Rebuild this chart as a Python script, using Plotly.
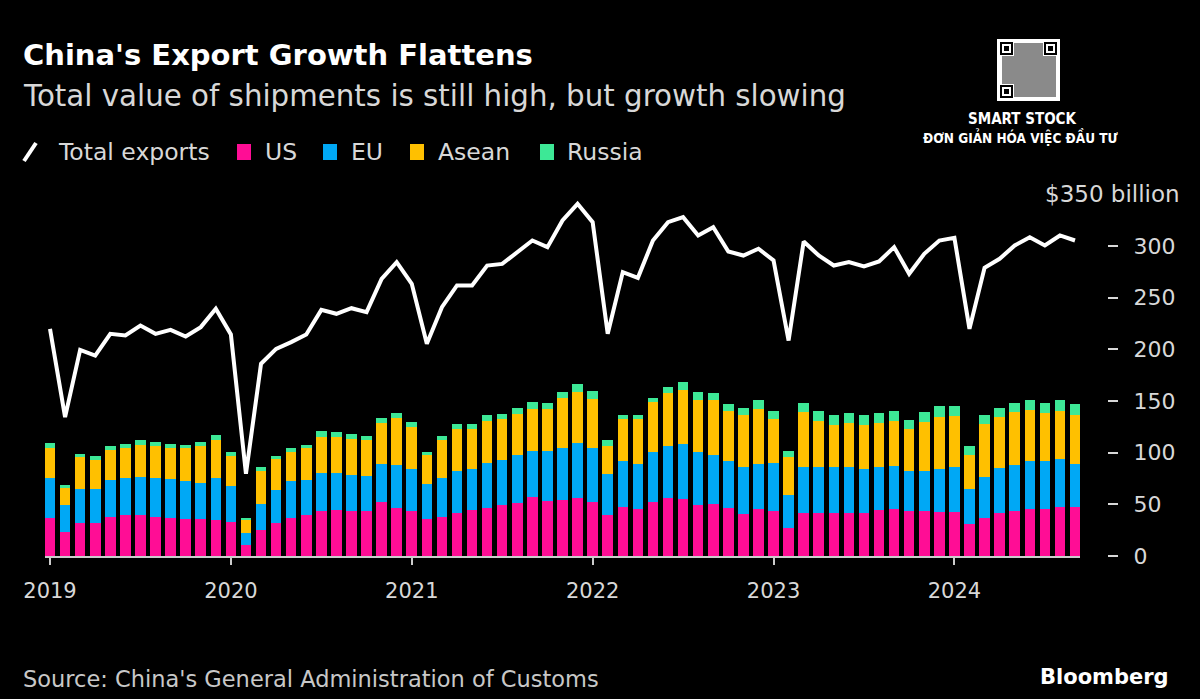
import plotly.graph_objects as go

months = [f"{y}-{m:02d}" for y in range(2019, 2025) for m in range(1, 13)][:69]

us = [36.6, 23.1, 31.8, 31.8, 37.6, 39.2, 39.2, 37.6, 36.9, 36.0, 36.0, 35.0,
      32.7, 10.8, 25.3, 32.1, 36.9, 39.2, 43.1, 44.7, 43.4, 43.4, 52.1, 46.6,
      44.0, 36.0, 38.2, 41.8, 44.7, 46.6, 49.5, 51.5, 57.0, 53.7, 54.4, 56.3,
      52.1, 39.8, 47.3, 45.6, 52.1, 56.0, 54.7, 49.8, 50.5, 46.6, 40.8, 45.6,
      44.0, 26.9, 42.1, 42.1, 42.1, 42.1, 42.1, 44.7, 45.6, 43.1, 44.0, 42.4,
      42.4, 31.1, 36.9, 42.1, 44.0, 45.6, 45.6, 47.3, 47.3]
eu = [38.7, 25.8, 33.2, 33.2, 36.1, 36.1, 37.7, 37.7, 37.4, 36.4, 34.5, 40.3,
      34.6, 11.3, 25.2, 31.9, 35.5, 34.5, 37.1, 35.5, 35.1, 34.5, 37.1, 41.9,
      40.4, 33.8, 37.1, 40.3, 39.7, 43.2, 43.6, 45.8, 44.5, 48.4, 50.3, 52.9,
      52.3, 39.1, 44.2, 43.6, 48.4, 50.3, 53.8, 51.3, 46.8, 44.9, 45.2, 43.6,
      45.8, 32.6, 44.5, 44.5, 44.5, 44.5, 42.3, 41.3, 41.3, 38.7, 38.7, 42.0,
      44.2, 33.9, 39.4, 43.2, 44.5, 45.9, 45.9, 46.7, 41.9]
asean = [29.4, 16.7, 30.6, 28.1, 29.0, 29.4, 31.0, 30.7, 30.4, 32.0, 35.8, 37.4,
         29.6, 12.3, 32.2, 29.4, 28.4, 30.7, 35.4, 34.8, 34.9, 33.9, 39.3, 44.9,
         40.3, 27.5, 37.1, 41.0, 38.7, 41.3, 39.6, 40.3, 40.9, 40.3, 48.0, 49.3,
         47.7, 28.0, 41.2, 43.5, 48.4, 51.6, 52.3, 49.4, 53.2, 48.7, 50.0, 53.2,
         42.9, 36.1, 52.6, 44.5, 40.3, 42.3, 42.8, 42.9, 43.6, 41.3, 46.8, 50.6,
         48.7, 33.2, 51.6, 49.7, 50.7, 50.0, 46.7, 46.8, 47.4]
russia = [4.5, 3.3, 3.3, 3.2, 3.6, 3.8, 3.9, 4.2, 3.8, 3.5, 4.2, 4.6,
          3.9, 2.5, 3.3, 3.5, 3.9, 3.5, 5.2, 4.8, 4.8, 4.8, 4.9, 4.8,
          4.8, 3.8, 4.2, 4.8, 4.8, 4.9, 4.9, 5.5, 6.5, 5.5, 5.8, 8.1,
          7.1, 4.9, 3.9, 3.9, 4.1, 5.5, 7.4, 8.0, 7.4, 7.1, 7.1, 8.1,
          8.1, 6.5, 8.7, 9.7, 9.7, 9.6, 9.7, 9.6, 9.7, 9.0, 10.3, 10.6,
          9.4, 7.8, 8.1, 8.1, 9.0, 9.6, 10.0, 10.3, 10.7]
total = [219.8, 134.4, 199.5, 194.0, 215.0, 213.4, 223.0, 215.0, 218.9, 212.4, 221.5, 239.2,
         214.4, 79.5, 186.0, 200.5, 207.0, 214.4, 238.2, 234.4, 239.8, 236.0, 268.2, 284.4,
         263.4, 205.3, 240.8, 261.8, 261.8, 281.1, 282.7, 294.0, 305.3, 298.9, 324.7, 340.8,
         323.1, 215.0, 274.7, 269.2, 305.3, 323.1, 327.9, 310.2, 318.2, 294.7, 290.8, 297.3,
         286.0, 208.5, 304.4, 290.8, 281.1, 284.4, 280.2, 285.0, 298.9, 273.1, 292.4, 305.3,
         307.9, 219.8, 278.9, 287.6, 300.5, 308.5, 300.5, 310.2, 305.3]

year_ticks = ["2019", "2020", "2021", "2022", "2023", "2024"]
y_ticks = [0, 50, 100, 150, 200, 250, 300]

series = [("US", us, "#ff0d95"), ("EU", eu, "#00a8f5"),
          ("Asean", asean, "#ffc000"), ("Russia", russia, "#3de896")]

W, H = 1200, 699
L, R, T, B = 45, 20, 184, 143
PW, PH = W - L - R, H - T - B


def px(x):
    return (x - L) / PW


def py(y):
    return (H - B - y) / PH


xi = list(range(len(months)))
fig = go.Figure()
for name, vals, col in series:
    fig.add_trace(go.Bar(x=xi, y=vals, name=name, marker_color=col,
                         marker_line_width=0, width=0.7, showlegend=False,
                         hovertext=months))
fig.add_trace(go.Scatter(x=xi, y=total, mode="lines", name="Total exports",
                         line=dict(color="white", width=4), showlegend=False,
                         hovertext=months))

FONT = "DejaVu Sans"
fig.update_layout(
    width=W, height=H, barmode="stack", bargap=0.3,
    paper_bgcolor="black", plot_bgcolor="black",
    margin=dict(l=L, r=R, t=T, b=B),
    font=dict(family=FONT, color="#d8d8d8"),
    xaxis=dict(domain=[0, (1080 - L) / PW], range=[-0.332, 68.332],
               tickvals=[12 * i for i in range(len(year_ticks))], ticktext=year_ticks,
               ticks="outside", ticklen=7, tickwidth=2, tickcolor="#cccccc",
               showline=True, linecolor="#cccccc", linewidth=2,
               showgrid=False, zeroline=False,
               tickfont=dict(size=21, color="#d8d8d8"), ticklabelstandoff=8),
    yaxis=dict(range=[0, 360], side="right", anchor="free", position=px(1107),
               tickvals=y_ticks, ticktext=[str(v) for v in y_ticks],
               ticks="outside", ticklen=10, tickwidth=2, tickcolor="#d8d8d8",
               showline=False, showgrid=False, zeroline=False,
               tickfont=dict(size=22, color="#d8d8d8"), ticklabelstandoff=11),
)

ann = [
    dict(text="<b>China's Export Growth Flattens</b>", x=px(21), y=py(55), size=29, color="white", xanchor="left", fam=FONT),
    dict(text="Total value of shipments is still high, but growth slowing", x=px(21), y=py(96), size=29.3, color="#d8d8d8", xanchor="left", fam=FONT),
    dict(text="Total exports", x=px(56), y=py(152), size=23.5, color="#d8d8d8", xanchor="left", fam=FONT),
    dict(text="US", x=px(263), y=py(152), size=23.5, color="#d8d8d8", xanchor="left", fam=FONT),
    dict(text="EU", x=px(349), y=py(152), size=23.5, color="#d8d8d8", xanchor="left", fam=FONT),
    dict(text="Asean", x=px(436), y=py(152), size=23.5, color="#d8d8d8", xanchor="left", fam=FONT),
    dict(text="Russia", x=px(565), y=py(152), size=23.5, color="#d8d8d8", xanchor="left", fam=FONT),
    dict(text="$350 billion", x=px(1182), y=py(194), size=23, color="#d8d8d8", xanchor="right", fam=FONT),
    dict(text="Source: China's General Administration of Customs", x=px(21), y=py(679), size=22.5, color="#c8c8c8", xanchor="left", fam=FONT),
    dict(text="<b>Bloomberg</b>", x=px(1171), y=py(677), size=21, color="white", xanchor="right", fam=FONT),
    dict(text="<b>SMART STOCK</b>", x=px(1022), y=py(119), size=15, color="white", xanchor="center", fam="DejaVu Sans Condensed"),
    dict(text="<b>ĐƠN GIẢN HÓA VIỆC ĐẦU TƯ</b>", x=px(1021), y=py(137), size=13.5, color="white", xanchor="center", fam="DejaVu Sans Condensed"),
]
for a in ann:
    fig.add_annotation(text=a["text"], x=a["x"], y=a["y"], xref="paper", yref="paper",
                       xanchor=a["xanchor"], yanchor="middle", showarrow=False,
                       font=dict(size=a["size"], color=a["color"], family=a["fam"]))

# legend glyphs
fig.add_shape(type="line", xref="paper", yref="paper", x0=px(24), y0=py(161), x1=px(36), y1=py(143),
              line=dict(color="white", width=4))
for x0, col in [(237, "#ff0d95"), (323, "#00a8f5"), (410, "#ffc000"), (540, "#3de896")]:
    fig.add_shape(type="rect", xref="paper", yref="paper", x0=px(x0), x1=px(x0 + 14),
                  y0=py(160), y1=py(144), fillcolor=col, line_width=0)

# QR-like watermark
fig.add_shape(type="rect", xref="paper", yref="paper", x0=px(997), x1=px(1060), y0=py(101), y1=py(39),
              fillcolor="white", line_width=0)
fig.add_shape(type="rect", xref="paper", yref="paper", x0=px(1002), x1=px(1056), y0=py(97), y1=py(43),
              fillcolor="#8a8a8a", line_width=0)
for fx, fy in [(1000, 42), (1044, 42), (1000, 85)]:
    fig.add_shape(type="rect", xref="paper", yref="paper", x0=px(fx - 1), x1=px(fx + 14), y0=py(fy + 14), y1=py(fy - 1),
                  fillcolor="white", line_width=0)
    fig.add_shape(type="rect", xref="paper", yref="paper", x0=px(fx), x1=px(fx + 13), y0=py(fy + 13), y1=py(fy),
                  fillcolor="black", line_width=0)
    fig.add_shape(type="rect", xref="paper", yref="paper", x0=px(fx + 2), x1=px(fx + 11), y0=py(fy + 11), y1=py(fy + 2),
                  fillcolor="white", line_width=0)
    fig.add_shape(type="rect", xref="paper", yref="paper", x0=px(fx + 4), x1=px(fx + 9), y0=py(fy + 9), y1=py(fy + 4),
                  fillcolor="black", line_width=0)

fig.write_html("out.html", config={"displayModeBar": False},
               post_script="document.body.style.margin='0';document.body.style.overflow='hidden';document.body.style.background='black';")
